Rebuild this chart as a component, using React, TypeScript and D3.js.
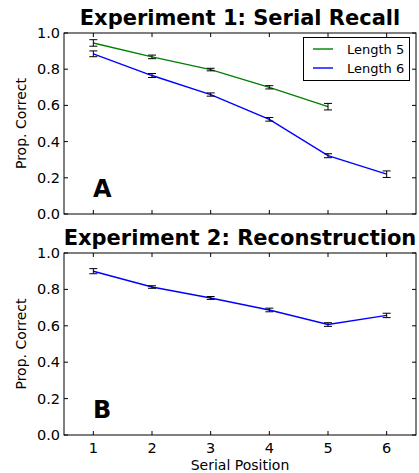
import React from 'react'
import * as d3 from 'd3'

// serial positions
const positions = [1, 2, 3, 4, 5, 6]
const yTicks = [0, 0.2, 0.4, 0.6, 0.8, 1.0]

// Experiment 1: serial recall
const len5Mean = [0.945, 0.868, 0.798, 0.700, 0.593]
const len5Err = [0.018, 0.01, 0.007, 0.009, 0.018]
const len6Mean = [0.885, 0.765, 0.660, 0.523, 0.322, 0.220]
const len6Err = [0.016, 0.011, 0.009, 0.01, 0.011, 0.018]

// Experiment 2: reconstruction
const reconMean = [0.900, 0.813, 0.753, 0.687, 0.607, 0.657]
const reconErr = [0.014, 0.007, 0.008, 0.01, 0.01, 0.012]

const W = 419
const H = 473
const left = 64
const right = 416
const font = 'DejaVu Sans, sans-serif'

const x = d3.scaleLinear().domain([0.5, 6.5]).range([left, right])

type Series = { mean: number[]; err: number[]; color: string }

function Panel(props: {
  top: number
  bottom: number
  title: string
  letter: string
  series: Series[]
  xLabels: boolean
}) {
  const { top, bottom, title, letter, series, xLabels } = props
  const y = d3.scaleLinear().domain([0, 1]).range([bottom, top])
  const tl = 4
  return (
    <g>
      <text x={(left + right) / 2} y={top - 8} textAnchor="middle" fontFamily={font} fontWeight="bold" fontSize={21}>{title}</text>
      {series.map((s, si) => {
        const line = d3.line<number>().x((_, i) => x(positions[i])).y(d => y(d))
        return (
          <g key={si}>
            <path d={line(s.mean) || ''} fill="none" stroke={s.color} strokeWidth={1.4} />
            {s.mean.map((m, i) => {
              const cx = x(positions[i])
              const y1 = y(m + s.err[i])
              const y2 = y(m - s.err[i])
              return (
                <g key={i} stroke="#000" strokeWidth={1}>
                  <line x1={cx} x2={cx} y1={y1} y2={y2} />
                  <line x1={cx - 4} x2={cx + 4} y1={y1} y2={y1} />
                  <line x1={cx - 4} x2={cx + 4} y1={y2} y2={y2} />
                </g>
              )
            })}
          </g>
        )
      })}
      <rect x={left} y={top} width={right - left} height={bottom - top} fill="none" stroke="#000" strokeWidth={1} />
      {yTicks.map(t => (
        <g key={t}>
          <line x1={left} x2={left + tl} y1={y(t)} y2={y(t)} stroke="#000" />
          <line x1={right} x2={right - tl} y1={y(t)} y2={y(t)} stroke="#000" />
          <text x={left - 4} y={y(t) + 5} textAnchor="end" fontFamily={font} fontSize={14.5}>{t.toFixed(1)}</text>
        </g>
      ))}
      {positions.map(p => (
        <g key={p}>
          <line x1={x(p)} x2={x(p)} y1={bottom} y2={bottom - tl} stroke="#000" />
          <line x1={x(p)} x2={x(p)} y1={top} y2={top + tl} stroke="#000" />
          {xLabels && (
            <text x={x(p)} y={bottom + 18} textAnchor="middle" fontFamily={font} fontSize={14.5}>{p}</text>
          )}
        </g>
      ))}
      <text transform={`translate(26,${(top + bottom) / 2}) rotate(-90)`} textAnchor="middle" fontFamily={font} fontSize={14}>Prop. Correct</text>
      <text x={93} y={bottom - 17} fontFamily={font} fontWeight="bold" fontSize={24}>{letter}</text>
    </g>
  )
}

export default function App() {
  return (
    <svg width={W} height={H} style={{ position: 'absolute', left: 0, top: 0, background: '#fff' }}>
      <Panel
        top={33}
        bottom={214}
        title="Experiment 1: Serial Recall"
        letter="A"
        xLabels={false}
        series={[
          { mean: len5Mean, err: len5Err, color: '#008000' },
          { mean: len6Mean, err: len6Err, color: '#0000ff' },
        ]}
      />
      <g>
        <rect x={303.5} y={37.5} width={106} height={43} fill="#fff" stroke="#000" />
        <line x1={313} x2={333} y1={49} y2={49} stroke="#008000" strokeWidth={1.4} />
        <text x={347} y={54} fontFamily={font} fontSize={13}>Length 5</text>
        <line x1={313} x2={333} y1={68} y2={68} stroke="#0000ff" strokeWidth={1.4} />
        <text x={347} y={73} fontFamily={font} fontSize={13}>Length 6</text>
      </g>
      <Panel
        top={253}
        bottom={435}
        title="Experiment 2: Reconstruction"
        letter="B"
        xLabels={true}
        series={[{ mean: reconMean, err: reconErr, color: '#0000ff' }]}
      />
      <text x={(left + right) / 2} y={470} textAnchor="middle" fontFamily={font} fontSize={14}>Serial Position</text>
    </svg>
  )
}
